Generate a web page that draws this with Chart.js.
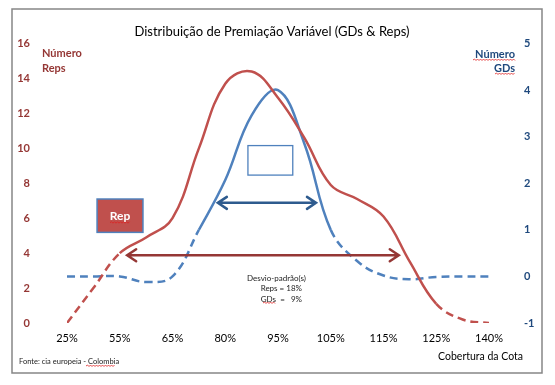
<!DOCTYPE html>
<html>
<head>
<meta charset="utf-8">
<script src="https://cdn.jsdelivr.net/npm/chart.js@4.4.0/dist/chart.umd.min.js"></script>
<style>
  body { margin: 0; background: #fff; }
</style>
</head>
<body>
<canvas id="chart" width="555" height="385"></canvas>
<script>
// categories on the x axis (curves are read at half steps between them)
const xLabels = ['25%', '55%', '65%', '80%', '95%', '105%', '115%', '125%', '140%'];
const xSteps = [0, 0.5, 1, 1.5, 2, 2.5, 3, 3.5, 4, 4.5, 5, 5.5, 6, 6.5, 7, 7.5, 8];
// Número Reps (left axis)
const repsValues = [0, 2.0, 4.0, 4.9, 6.0, 10.0, 13.7, 14.4, 12.9, 10.6, 7.9, 7.1, 6.1, 3.5, 1.1, 0.2, 0];
// Número GDs (right axis)
const gdsValues = [0, 0, 0, -0.12, 0, 1.0, 2.07, 3.46, 4.0, 2.85, 1.0, 0.33, 0.02, -0.06, -0.01, 0, 0];

const redLine = '#C0504D';
const blueLine = '#4F81BD';
const redText = '#953735';
const blueText = '#1F497D';

const toPoints = vals => vals.map((v, i) => ({ x: xSteps[i], y: v }));

function squiggle(ctx, x1, x2, y) {
  ctx.save();
  ctx.strokeStyle = '#e02020';
  ctx.lineWidth = 0.8;
  ctx.beginPath();
  ctx.moveTo(x1, y);
  let up = true;
  for (let x = x1 + 1.5; x <= x2; x += 1.5) {
    ctx.lineTo(x, up ? y - 1 : y + 0.5);
    up = !up;
  }
  ctx.stroke();
  ctx.restore();
}

function arrow(ctx, x1, x2, y, color) {
  ctx.save();
  ctx.strokeStyle = color;
  ctx.lineWidth = 2.5;
  ctx.lineCap = 'round';
  ctx.beginPath();
  ctx.moveTo(x1, y);
  ctx.lineTo(x2, y);
  ctx.moveTo(x1 + 9, y - 6);
  ctx.lineTo(x1, y);
  ctx.lineTo(x1 + 9, y + 6);
  ctx.moveTo(x2 - 9, y - 6);
  ctx.lineTo(x2, y);
  ctx.lineTo(x2 - 9, y + 6);
  ctx.stroke();
  ctx.restore();
}

const extras = {
  id: 'extras',
  afterDatasetsDraw(chart) {
    const { ctx, scales } = chart;
    const x = scales.x, yl = scales.yReps, yr = scales.yGds;

    // empty blue box
    ctx.save();
    const bx1 = x.getPixelForValue(3.43), bx2 = x.getPixelForValue(4.28);
    const by1 = yl.getPixelForValue(10.16), by2 = yl.getPixelForValue(8.47);
    ctx.fillStyle = '#fff';
    ctx.strokeStyle = blueLine;
    ctx.lineWidth = 1.3;
    ctx.fillRect(bx1, by1, bx2 - bx1, by2 - by1);
    ctx.strokeRect(bx1, by1, bx2 - bx1, by2 - by1);

    // "Rep" box
    const rx1 = x.getPixelForValue(0.57), rx2 = x.getPixelForValue(1.44);
    const ry1 = yl.getPixelForValue(7.1), ry2 = yl.getPixelForValue(5.19);
    ctx.fillStyle = redLine;
    ctx.fillRect(rx1, ry1, rx2 - rx1, ry2 - ry1);
    ctx.strokeStyle = blueLine;
    ctx.lineWidth = 1.5;
    ctx.strokeRect(rx1, ry1, rx2 - rx1, ry2 - ry1);
    ctx.fillStyle = '#fff';
    ctx.font = 'bold 12px Lato';
    ctx.textAlign = 'center';
    ctx.textBaseline = 'middle';
    const rcx = (rx1 + rx2) / 2, rcy = (ry1 + ry2) / 2;
    ctx.fillText('Rep', rcx, rcy);
    ctx.restore();
    squiggle(ctx, rcx - 10, rcx + 10, rcy + 7);

    // std-dev arrows
    arrow(ctx, x.getPixelForValue(2.86), x.getPixelForValue(4.72), yr.getPixelForValue(1.58), '#2E5B8E');
    arrow(ctx, x.getPixelForValue(1.14), x.getPixelForValue(6.29), yl.getPixelForValue(3.88), '#953735');
  },
  afterDraw(chart) {
    const { ctx } = chart;
    ctx.save();
    // frame
    ctx.strokeStyle = '#868686';
    ctx.lineWidth = 1.5;
    ctx.strokeRect(12, 9, 530, 364);

    ctx.textBaseline = 'middle';
    ctx.fillStyle = '#000';
    ctx.font = '13px Lato';
    ctx.textAlign = 'center';
    ctx.fillText('Distribuição de Premiação Variável (GDs & Reps)', 272, 32);

    ctx.font = 'bold 11px Lato';
    ctx.fillStyle = redText;
    ctx.textAlign = 'left';
    ctx.fillText('Número', 42, 53);
    ctx.fillText('Reps', 42, 68);

    ctx.fillStyle = blueText;
    ctx.textAlign = 'right';
    ctx.fillText('Número', 515, 54);
    ctx.fillText('GDs', 515, 68);

    ctx.fillStyle = '#222';
    ctx.font = '8px Lato';
    ctx.textAlign = 'left';
    ctx.fillText('Desvio-padrão(s)', 247, 278);
    ctx.textAlign = 'right';
    ctx.fillText('Reps = 18%', 302, 288);
    ctx.fillText('GDs  =   9%', 302, 299);

    ctx.fillStyle = '#000';
    ctx.font = '10.5px Lato';
    ctx.fillText('Cobertura da Cota', 523, 357);

    ctx.font = '7.5px Lato';
    ctx.textAlign = 'left';
    ctx.fillStyle = '#222';
    ctx.fillText('Fonte: cia europeia - Colombia', 19, 362);
    ctx.restore();

    squiggle(ctx, 473, 515, 60);
    squiggle(ctx, 495, 515, 74);
    squiggle(ctx, 263, 275, 303);
    squiggle(ctx, 86, 115, 366);
  }
};

new Chart(document.getElementById('chart'), {
  type: 'line',
  data: {
    datasets: [
      {
        label: 'Reps',
        data: toPoints(repsValues),
        yAxisID: 'yReps',
        borderColor: redLine,
        borderWidth: 2.5,
        pointRadius: 0,
        tension: 0.4,
        segment: {
          borderDash: c => (c.p0DataIndex < 2 || c.p0DataIndex >= 14) ? [8, 5] : undefined
        }
      },
      {
        label: 'GDs',
        data: toPoints(gdsValues),
        yAxisID: 'yGds',
        borderColor: blueLine,
        borderWidth: 2.5,
        pointRadius: 0,
        tension: 0.4,
        segment: {
          borderDash: c => (c.p0DataIndex < 5 || c.p0DataIndex >= 10) ? [8, 5] : undefined
        }
      }
    ]
  },
  options: {
    responsive: false,
    animation: false,
    layout: { padding: { left: 12, right: 0, top: 30, bottom: 0 } },
    plugins: { legend: { display: false }, tooltip: { enabled: false } },
    scales: {
      x: {
        type: 'linear',
        min: 0,
        max: 8,
        grid: { display: false, drawTicks: false },
        border: { display: false },
        ticks: {
          stepSize: 1,
          padding: 9,
          color: '#000',
          font: { family: 'Lato', size: 11 },
          callback: v => xLabels[v]
        },
        afterFit: s => { s.height = 62; }
      },
      yReps: {
        position: 'left',
        min: 0,
        max: 16,
        grid: { display: false, drawTicks: false },
        border: { display: false },
        ticks: {
          stepSize: 2,
          padding: 37,
          color: redText,
          font: { family: 'Lato', size: 11, weight: 'bold' }
        },
        afterFit: s => { s.width = 55; }
      },
      yGds: {
        position: 'right',
        min: -1,
        max: 5,
        grid: { display: false, drawTicks: false },
        border: { display: false },
        ticks: {
          stepSize: 1,
          padding: 35,
          color: blueText,
          font: { family: 'Lato', size: 11, weight: 'bold' }
        },
        afterFit: s => { s.width = 66; }
      }
    }
  },
  plugins: [extras]
});
</script>
</body>
</html>
